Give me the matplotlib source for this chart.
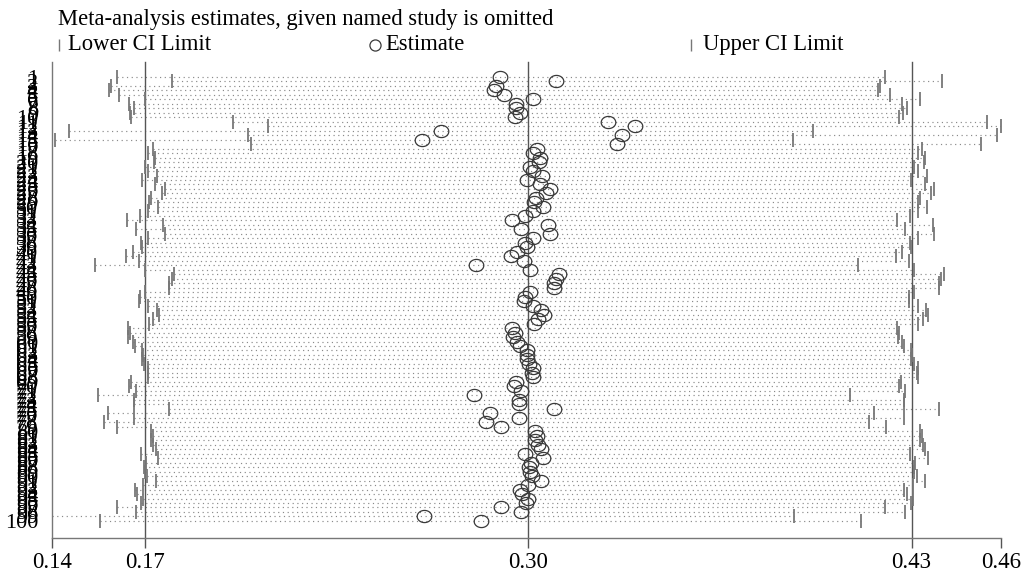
import numpy as np
import matplotlib; matplotlib.use("Agg")
import matplotlib.pyplot as plt
from matplotlib.path import Path
from matplotlib.lines import Line2D

plt.rcParams['font.family'] = ['Liberation Serif', 'DejaVu Serif']

# study omitted (row labels), estimate and CI when that study is left out
study = list(range(1, 101))
est = [0.2913, 0.3102, 0.2897, 0.2890, 0.2925, 0.3023, 0.2964, 0.2964, 0.2978, 0.2961,
       0.3277, 0.3366, 0.2711, 0.3324, 0.2649, 0.3305, 0.3038, 0.3023, 0.3046, 0.3043,
       0.3012, 0.3023, 0.3053, 0.3001, 0.3046, 0.3079, 0.3068, 0.3032, 0.3025, 0.3055,
       0.3023, 0.2996, 0.2952, 0.3074, 0.2981, 0.3079, 0.3023, 0.2997, 0.3001, 0.2970,
       0.2948, 0.2993, 0.2832, 0.3012, 0.3111, 0.3102, 0.3093, 0.3093, 0.3012, 0.2995,
       0.2992, 0.3023, 0.3051, 0.3059, 0.3040, 0.3025, 0.2953, 0.2961, 0.2955, 0.2970,
       0.2978, 0.3001, 0.3004, 0.3001, 0.3010, 0.3023, 0.3021, 0.3023, 0.2965, 0.2959,
       0.2981, 0.2824, 0.2975, 0.2976, 0.3093, 0.2879, 0.2976, 0.2863, 0.2914, 0.3031,
       0.3038, 0.3031, 0.3040, 0.3049, 0.2997, 0.3057, 0.3015, 0.3009, 0.3012, 0.3020,
       0.3049, 0.3006, 0.2978, 0.2986, 0.3006, 0.2998, 0.2914, 0.2981, 0.2654, 0.2849]
lower = [0.1618, 0.1804, 0.1599, 0.1592, 0.1627, 0.1714, 0.1661, 0.1677, 0.1663, 0.1665,
         0.2009, 0.2129, 0.1457, 0.2062, 0.1410, 0.2071, 0.1740, 0.1725, 0.1748, 0.1745,
         0.1714, 0.1725, 0.1755, 0.1703, 0.1748, 0.1781, 0.1770, 0.1734, 0.1727, 0.1757,
         0.1725, 0.1698, 0.1654, 0.1776, 0.1683, 0.1781, 0.1725, 0.1699, 0.1703, 0.1672,
         0.1650, 0.1695, 0.1545, 0.1714, 0.1813, 0.1804, 0.1795, 0.1795, 0.1714, 0.1697,
         0.1694, 0.1725, 0.1753, 0.1761, 0.1742, 0.1727, 0.1655, 0.1663, 0.1657, 0.1672,
         0.1680, 0.1703, 0.1706, 0.1703, 0.1712, 0.1725, 0.1723, 0.1725, 0.1667, 0.1661,
         0.1683, 0.1554, 0.1677, 0.1678, 0.1795, 0.1590, 0.1678, 0.1575, 0.1618, 0.1733,
         0.1740, 0.1733, 0.1742, 0.1751, 0.1699, 0.1759, 0.1717, 0.1711, 0.1714, 0.1722,
         0.1751, 0.1708, 0.1680, 0.1688, 0.1708, 0.1700, 0.1618, 0.1683, 0.1400, 0.1562]
upper = [0.4212, 0.4403, 0.4192, 0.4188, 0.4226, 0.4327, 0.4267, 0.4284, 0.4271, 0.4258,
         0.4554, 0.4602, 0.3967, 0.4589, 0.3899, 0.4535, 0.4336, 0.4321, 0.4344, 0.4341,
         0.4310, 0.4321, 0.4351, 0.4299, 0.4344, 0.4377, 0.4366, 0.4330, 0.4323, 0.4353,
         0.4321, 0.4294, 0.4250, 0.4372, 0.4279, 0.4377, 0.4321, 0.4295, 0.4299, 0.4268,
         0.4246, 0.4291, 0.4119, 0.4310, 0.4409, 0.4400, 0.4391, 0.4391, 0.4310, 0.4293,
         0.4290, 0.4321, 0.4349, 0.4357, 0.4338, 0.4323, 0.4251, 0.4259, 0.4253, 0.4268,
         0.4276, 0.4299, 0.4302, 0.4299, 0.4308, 0.4321, 0.4319, 0.4321, 0.4263, 0.4257,
         0.4279, 0.4093, 0.4273, 0.4274, 0.4391, 0.4175, 0.4274, 0.4156, 0.4215, 0.4329,
         0.4336, 0.4329, 0.4338, 0.4347, 0.4295, 0.4355, 0.4313, 0.4307, 0.4310, 0.4318,
         0.4347, 0.4304, 0.4276, 0.4284, 0.4304, 0.4298, 0.4212, 0.4279, 0.3903, 0.4131]
overall = [0.1714, 0.3005, 0.4300]   # lower CI, estimate, upper CI of full analysis

# slightly flattened circle, like the Stata "Oh" symbol
t = np.linspace(0, 2*np.pi, 60)
oval = Path(np.c_[1.2*np.cos(t), np.sin(t)], closed=True)

fig = plt.figure(figsize=(10.32, 5.71), dpi=100)
ax = fig.add_axes([0.0504, 0.0578, 0.9196, 0.8336])

y = np.array(study)
for yi, lo, hi in zip(y, lower, upper):
    ax.plot([lo, hi], [yi, yi], color='#8a8a8a', lw=0.85, ls=(0, (1, 3)), zorder=1)
for xv in overall:
    ax.axvline(xv, color='#555555', lw=1.0, zorder=2, clip_on=False)
ax.plot(lower, y, ls='none', marker='|', ms=9.5, mew=1.3, color='#777777', zorder=3)
ax.plot(upper, y, ls='none', marker='|', ms=9.5, mew=1.3, color='#777777', zorder=3)
ax.plot(est, y, ls='none', marker=oval, ms=10.5, mfc='none', mec='#3a3a3a', mew=0.9, zorder=4)

xmin, xmax = min(lower), max(upper)
ax.set_xlim(xmin, xmax)
ax.set_ylim(103.8, -2.3)
ticks = [xmin] + overall + [xmax]
ax.set_xticks(ticks)
ax.set_xticklabels([f"{v:.2f}" for v in ticks], fontsize=16.5)
ax.set_yticks(y)
ax.set_yticklabels([str(s) for s in study], fontsize=16)
ax.tick_params(axis='x', length=7, width=1, color='#555555', pad=3)
ax.tick_params(axis='y', length=0, pad=10)
for s in ['top', 'right']:
    ax.spines[s].set_visible(False)
for s in ['left', 'bottom']:
    ax.spines[s].set_color('#777777')
    ax.spines[s].set_linewidth(1.0)

# title and legend row
fig.text(0.0562, 0.9650, "Meta-analysis estimates, given named study is omitted",
         fontsize=16.3, va='center', ha='left')
ly = 0.9220
fig.add_artist(Line2D([0.0572], [ly], transform=fig.transFigure, ls='none',
                      marker='|', ms=9, mew=1.0, color='#777777'))
fig.text(0.0655, ly, "Lower CI Limit", fontsize=16.3, va='center', ha='left')
fig.add_artist(Line2D([0.3634], [ly], transform=fig.transFigure, ls='none',
                      marker='o', ms=8, mfc='none', mec='#3a3a3a', mew=0.9))
fig.text(0.3735, ly, "Estimate", fontsize=16.3, va='center', ha='left')
fig.add_artist(Line2D([0.6696], [ly], transform=fig.transFigure, ls='none',
                      marker='|', ms=9, mew=1.0, color='#777777'))
fig.text(0.6810, ly, "Upper CI Limit", fontsize=16.3, va='center', ha='left')

fig.savefig("out.png", dpi=100)
